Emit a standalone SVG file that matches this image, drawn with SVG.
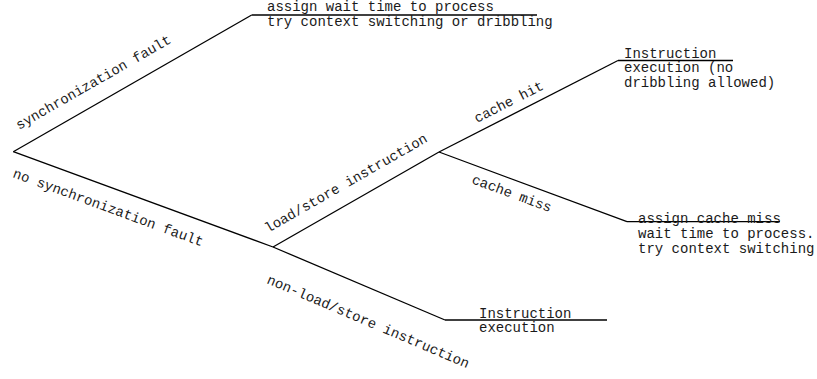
<svg xmlns="http://www.w3.org/2000/svg" width="817" height="379" viewBox="0 0 817 379">
<style>
text{font-family:"Liberation Mono","Courier New",monospace;font-size:14px;fill:#1a1a1a}
.c{fill:none;stroke:#000;stroke-width:1.3}
</style>
<rect width="817" height="379" fill="#fff"/>
<g id="connectors">
<path class="c" d="M13.3,151.7 L251.7,15"/>
<path class="c" d="M13.3,151.7 L273,247"/>
<path class="c" d="M273,247 L439,152"/>
<path class="c" d="M439,152 L618,60.5"/>
<path class="c" d="M439,152 L627,221.7"/>
<path class="c" d="M273,247 L445,320"/>
<text transform="translate(19,130) rotate(-29.8)">synchronization fault</text>
<text transform="translate(12,177) rotate(20.15)">no synchronization fault</text>
<text transform="translate(268,233) rotate(-29.8)">load/store instruction</text>
<text transform="translate(477,123) rotate(-26.9)">cache hit</text>
<text transform="translate(471,183) rotate(20.4)">cache miss</text>
<text transform="translate(266,283) rotate(23)">non-load/store instruction</text>
</g>
<g id="sync-leaf">
<path class="c" d="M251.7,15 L537,15"/>
<text x="267" y="11">assign wait time to process</text>
<text x="267" y="26">try context switching or dribbling</text>
</g>
<g id="hit-leaf">
<path class="c" d="M618,60.5 L733,60.5"/>
<text x="624" y="58">Instruction</text>
<text x="624" y="72.3">execution (no</text>
<text x="624" y="86.7">dribbling allowed)</text>
</g>
<g id="miss-leaf">
<path class="c" d="M627,221.7 L780,221.7"/>
<text x="638" y="223">assign cache miss</text>
<text x="638" y="238">wait time to process.</text>
<text x="638" y="252.7">try context switching</text>
</g>
<g id="nonload-leaf">
<path class="c" d="M445,320 L607,320"/>
<text x="479" y="317.7">Instruction</text>
<text x="479" y="331.5">execution</text>
</g>
</svg>
